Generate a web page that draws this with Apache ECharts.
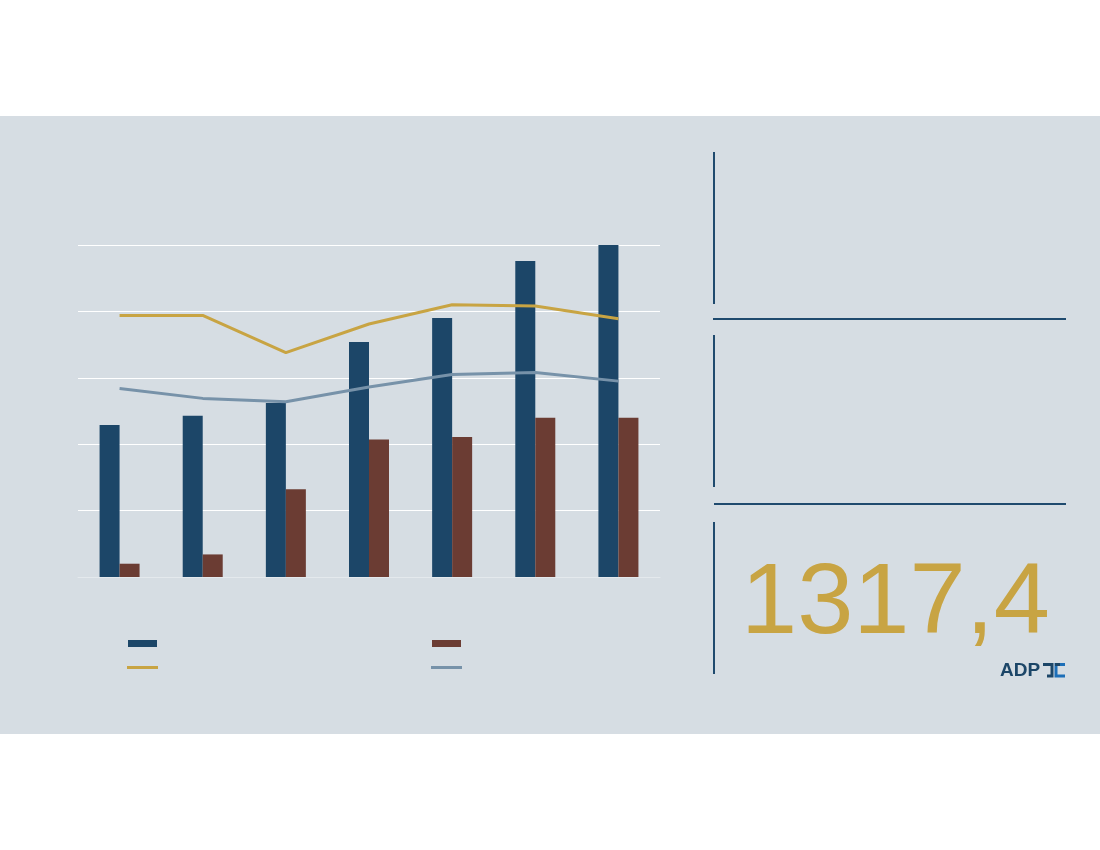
<!DOCTYPE html>
<html>
<head>
<meta charset="utf-8">
<script src="https://cdn.jsdelivr.net/npm/echarts@6/dist/echarts.min.js"></script>
<style>
  html, body { margin: 0; padding: 0; background: #ffffff; }
  #chart { width: 1100px; height: 850px; }
</style>
</head>
<body>
<div id="chart"></div>
<script>
// Periods along the x axis (labels are not shown on the axis)
const categories = ['P1', 'P2', 'P3', 'P4', 'P5', 'P6', 'P7'];

// Bar series (value axis runs 0..5)
const barDark = [2.29, 2.43, 2.62, 3.54, 3.90, 4.76, 5.00];
const barBrown = [0.20, 0.34, 1.32, 2.07, 2.11, 2.40, 2.40];

// Line series
const lineGold = [3.94, 3.94, 3.38, 3.81, 4.10, 4.08, 3.89];
const lineSteel = [2.84, 2.69, 2.64, 2.86, 3.05, 3.08, 2.95];

// Headline figure shown in the side panel
const headline = '1317,4';

const C = {
  band: '#d6dde3',
  navy: '#1c4668',
  brown: '#6b3c33',
  gold: '#c8a443',
  steel: '#7792a9',
  rule: '#1f4a6e',
  logoBlue: '#1d6fb8'
};

const chart = echarts.init(document.getElementById('chart'), null, { renderer: 'canvas' });

// legend swatches carry no text
function swatch(left, top, name, w, h) {
  return {
    left: left,
    top: top,
    orient: 'vertical',
    itemWidth: w,
    itemHeight: h,
    padding: 0,
    selectedMode: false,
    formatter: () => '',
    textStyle: { fontSize: 1, lineHeight: h, padding: 0 },
    data: [{ name: name, icon: 'rect' }]
  };
}

chart.setOption({
  animation: false,
  backgroundColor: '#ffffff',
  graphic: [
    // grey panel behind everything
    { type: 'rect', z: -10, silent: true, shape: { x: 0, y: 116, width: 1100, height: 618 }, style: { fill: C.band } },
    // side panel rules
    { type: 'line', z: 1, shape: { x1: 714, y1: 152, x2: 714, y2: 304 }, style: { stroke: C.rule, lineWidth: 2 } },
    { type: 'line', z: 1, shape: { x1: 713, y1: 319, x2: 1066, y2: 319 }, style: { stroke: C.rule, lineWidth: 2 } },
    { type: 'line', z: 1, shape: { x1: 714, y1: 335, x2: 714, y2: 487 }, style: { stroke: C.rule, lineWidth: 2 } },
    { type: 'line', z: 1, shape: { x1: 714, y1: 504, x2: 1066, y2: 504 }, style: { stroke: C.rule, lineWidth: 2 } },
    { type: 'line', z: 1, shape: { x1: 714, y1: 522, x2: 714, y2: 674 }, style: { stroke: C.rule, lineWidth: 2 } },
    // headline value
    {
      type: 'text', z: 2, x: 741, y: 555,
      style: {
        text: headline,
        fill: C.gold,
        font: '101px "Liberation Sans", Arial, sans-serif',
        align: 'left',
        verticalAlign: 'top'
      }
    },
    // logo
    {
      type: 'text', z: 2, x: 1000, y: 661,
      style: {
        text: 'ADP',
        fill: C.navy,
        font: 'bold 19px "Liberation Sans", Arial, sans-serif',
        align: 'left',
        verticalAlign: 'top'
      }
    },
    { type: 'polyline', z: 2, shape: { points: [[1043, 664.5], [1052, 664.5], [1052, 676], [1047, 676]] }, style: { stroke: C.navy, lineWidth: 3, fill: null } },
    { type: 'polyline', z: 2, shape: { points: [[1065, 664.5], [1056, 664.5], [1056, 676], [1065, 676]] }, style: { stroke: C.logoBlue, lineWidth: 3, fill: null } },
    { type: 'line', z: 3, shape: { x1: 1055, y1: 664.5, x2: 1060, y2: 664.5 }, style: { stroke: C.navy, lineWidth: 3 } }
  ],
  legend: [
    swatch(128, 640, 'Série A', 29, 7),
    swatch(127, 666, 'Série C', 31, 3),
    swatch(432, 640, 'Série B', 29, 7),
    swatch(431, 666, 'Série D', 31, 3)
  ],
  grid: { left: 78, right: 440, top: 245, bottom: 273, containLabel: false },
  xAxis: {
    type: 'category',
    data: categories,
    axisLine: { show: true, lineStyle: { color: '#e4e9ed', width: 1 } },
    axisTick: { show: false },
    axisLabel: { show: false },
    splitLine: { show: false }
  },
  yAxis: {
    type: 'value',
    min: 0,
    max: 5,
    interval: 1,
    axisLine: { show: false },
    axisTick: { show: false },
    axisLabel: { show: false },
    splitLine: { show: true, lineStyle: { color: '#ffffff', width: 1 } }
  },
  series: [
    { name: 'Série A', type: 'bar', data: barDark, barWidth: 20, barGap: '0%', itemStyle: { color: C.navy }, z: 2 },
    { name: 'Série B', type: 'bar', data: barBrown, barWidth: 20, barGap: '0%', itemStyle: { color: C.brown }, z: 2 },
    { name: 'Série C', type: 'line', data: lineGold, symbol: 'none', showSymbol: false, lineStyle: { color: C.gold, width: 3 }, itemStyle: { color: C.gold }, z: 3 },
    { name: 'Série D', type: 'line', data: lineSteel, symbol: 'none', showSymbol: false, lineStyle: { color: C.steel, width: 3 }, itemStyle: { color: C.steel }, z: 3 }
  ]
});
</script>
</body>
</html>
